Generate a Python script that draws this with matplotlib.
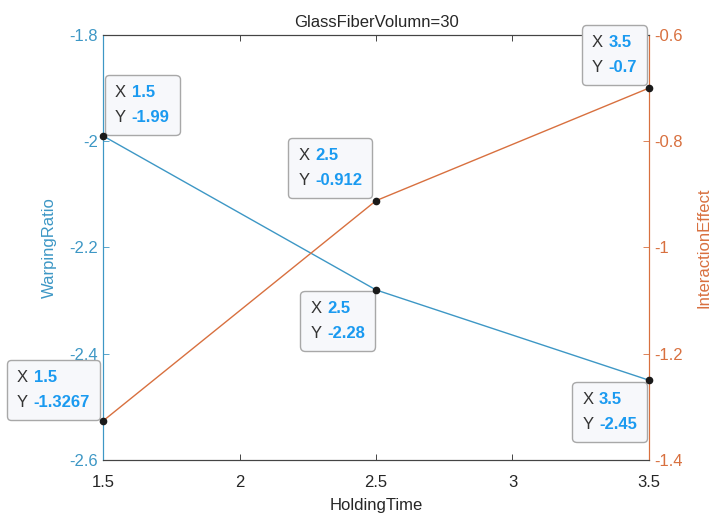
import matplotlib.pyplot as plt
from matplotlib.offsetbox import TextArea, HPacker, VPacker, AnnotationBbox

plt.rcParams['font.family'] = ['Liberation Sans', 'DejaVu Sans']

holding_time = [1.5, 2.5, 3.5]
warping_ratio = [-1.99, -2.28, -2.45]
interaction_effect = [-1.3267, -0.912, -0.7]
warping_labels = ['-1.99', '-2.28', '-2.45']
interaction_labels = ['-1.3267', '-0.912', '-0.7']
x_labels = ['1.5', '2.5', '3.5']

blue = '#3d97c5'
orange = '#d8703f'
dark = '#262626'
tip_blue = '#1a9af0'

fig = plt.figure(figsize=(7.12, 5.22), dpi=100)
ax = fig.add_axes([0.1447, 0.119, 0.7668, 0.814])
ax2 = ax.twinx()

ax.plot(holding_time, warping_ratio, color=blue, linewidth=1.0)
ax2.plot(holding_time, interaction_effect, color=orange, linewidth=1.0)

ax.set_xlim(1.5, 3.5)
ax.set_ylim(-2.6, -1.8)
ax2.set_ylim(-1.4, -0.6)
ax.set_xticks([1.5, 2, 2.5, 3, 3.5])
ax.set_xticklabels(['1.5', '2', '2.5', '3', '3.5'])
ax.set_yticks([-2.6, -2.4, -2.2, -2, -1.8])
ax.set_yticklabels(['-2.6', '-2.4', '-2.2', '-2', '-1.8'])
ax2.set_yticks([-1.4, -1.2, -1, -0.8, -0.6])
ax2.set_yticklabels(['-1.4', '-1.2', '-1', '-0.8', '-0.6'])

ax.tick_params(axis='x', direction='in', top=True, colors=dark, labelsize=12, length=4, width=0.6, pad=11)
ax.tick_params(axis='y', direction='in', colors=blue, labelsize=12, length=4, width=0.6)
ax2.tick_params(axis='y', direction='in', colors=orange, labelsize=12, length=4, width=0.6)

for a in (ax, ax2):
    a.spines['top'].set_color('#444444')
    a.spines['bottom'].set_color('#444444')
    a.spines['left'].set_color(blue)
    a.spines['right'].set_color(orange)
    for s in a.spines.values():
        s.set_linewidth(0.8)

ax.set_xlabel('HoldingTime', fontsize=12, color=dark, labelpad=6)
ax.set_ylabel('WarpingRatio', fontsize=12, color=blue, labelpad=9)
ax2.set_ylabel('InteractionEffect', fontsize=12, color=orange, labelpad=10)
ax.set_title('GlassFiberVolumn=30', fontsize=12, color=dark, pad=6)


def datatip(xv, yv, xl, yl, trans, offset, align):
    rows = []
    for name, val in (('X', xl), ('Y', yl)):
        rows.append(HPacker(children=[
            TextArea(name, textprops=dict(color='#333333', fontsize=12)),
            TextArea(val, textprops=dict(color=tip_blue, fontsize=12, fontweight='bold'))],
            align='baseline', pad=0, sep=4))
    box = VPacker(children=rows, align='left', pad=0, sep=7)
    ab = AnnotationBbox(box, (xv, yv), xybox=offset, xycoords=trans,
                        boxcoords='offset pixels', box_alignment=align,
                        frameon=True, annotation_clip=False, fontsize=12,
                        bboxprops=dict(boxstyle='round,pad=0.6,rounding_size=0.25',
                                       fc='#f7f8fb', ec='#a8a8a8', lw=1.0))
    ab.set_zorder(10)
    ax2.add_artist(ab)


tips_left = [((12, 11), (0, 0)), ((-11, -11), (1, 1)), ((-12, -12), (1, 1))]
tips_right = [((-13, 11), (1, 0)), ((-14, 13), (1, 0)), ((-12, 13), (1, 0))]
for i in range(3):
    datatip(holding_time[i], warping_ratio[i], x_labels[i], warping_labels[i],
            ax.transData, *tips_left[i])
    datatip(holding_time[i], interaction_effect[i], x_labels[i], interaction_labels[i],
            ax2.transData, *tips_right[i])

ax2.plot(holding_time, warping_ratio, 'o', color='#1a1a1a', markersize=4.5,
         transform=ax.transData, zorder=20, clip_on=False)
ax2.plot(holding_time, interaction_effect, 'o', color='#1a1a1a', markersize=4.5,
         zorder=20, clip_on=False)
ax2.set_ylim(-1.4, -0.6)

fig.savefig('out.png', dpi=100)
